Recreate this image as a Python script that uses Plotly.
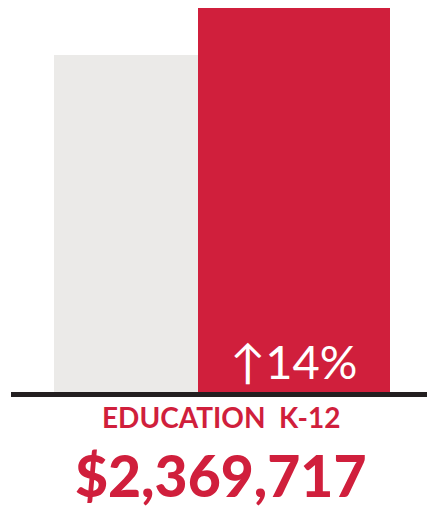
import plotly.graph_objects as go

# Spending for Education K-12: prior period vs current period
categories = ["Prior", "Current"]
current_total = 2369717
pct_change = 14
values = [current_total / (1 + pct_change / 100), current_total]

change_label = f"\u2191{pct_change}%"
category_label = "EDUCATION\u00a0 K-12"
total_label = f"${current_total:,}"

RED = "#D01F3C"
GREY = "#EBEAE8"
INK = "#231F20"

W, H = 427, 510
plot_h = 392  # pixel height of the plotting area (baseline sits at its bottom)

fig = go.Figure()
fig.add_trace(go.Bar(
    x=[126, 294],
    y=values,
    width=[144, 192],
    marker=dict(color=[GREY, RED], line=dict(width=0)),
    hoverinfo="skip",
    showlegend=False,
))

def py(pixel_y):
    """Convert a pixel row (from the top of the page) into paper coordinates."""
    return (plot_h - pixel_y) / plot_h

# Baseline rule
fig.add_shape(type="rect", xref="x", yref="paper",
              x0=11, x1=427, y0=py(397), y1=py(392),
              fillcolor=INK, line=dict(width=0), layer="above")

fig.add_annotation(x=293, y=py(361), xref="x", yref="paper",
                   text=change_label, showarrow=False,
                   font=dict(family="Lato", size=47, color="white"),
                   xanchor="center", yanchor="middle")
fig.add_annotation(x=221, y=py(417), xref="x", yref="paper",
                   text=category_label, showarrow=False,
                   font=dict(family="Lato", size=28, color=RED, weight=700),
                   xanchor="center", yanchor="middle")
fig.add_annotation(x=220, y=py(475), xref="x", yref="paper",
                   text=total_label, showarrow=False, borderpad=0,
                   font=dict(family="Lato", size=57, color=RED, weight=900),
                   xanchor="center", yanchor="middle")

fig.update_layout(
    width=W, height=H,
    margin=dict(l=0, r=0, t=0, b=H - plot_h, pad=0),
    paper_bgcolor="white", plot_bgcolor="white",
    bargap=0,
    xaxis=dict(range=[0, W], visible=False, fixedrange=True),
    yaxis=dict(range=[0, current_total * plot_h / 384], visible=False, fixedrange=True),
)

fig.write_html("out.html", config={"displayModeBar": False})
